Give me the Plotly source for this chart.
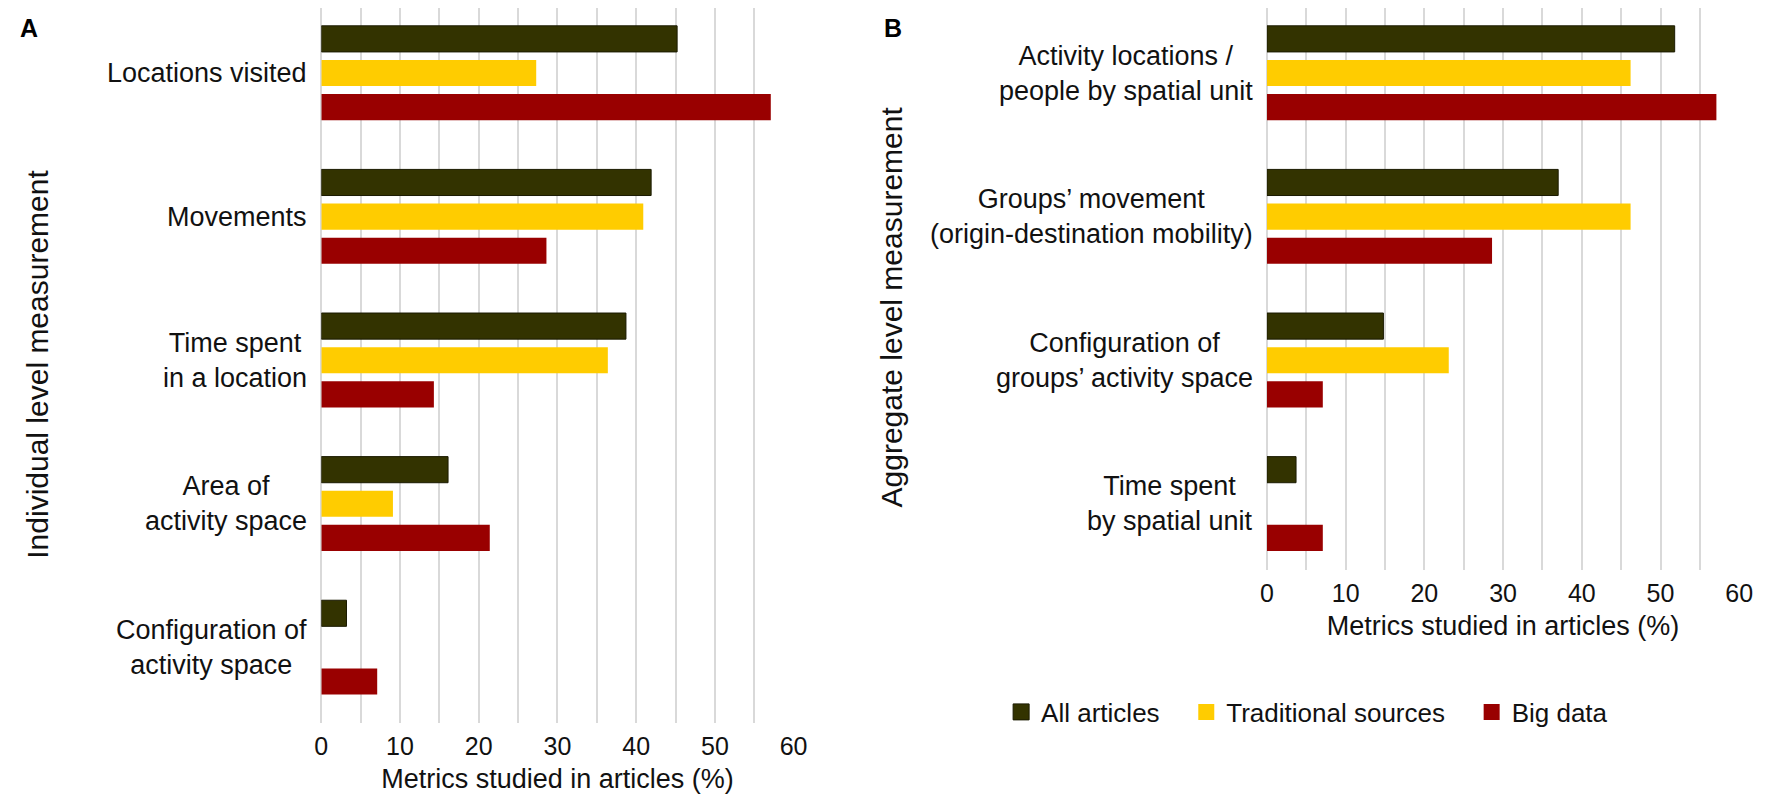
import plotly.graph_objects as go

# panel A - individual level
cats_a = ["Locations visited", "Movements", "Time spent<br>in a location",
          "Area of<br>activity space", "Configuration of<br>activity space"]
all_a = [45.2, 41.9, 38.7, 16.1, 3.2]
trad_a = [27.3, 40.9, 36.4, 9.1, 0]
big_a = [57.1, 28.6, 14.3, 21.4, 7.1]

# panel B - aggregate level
cats_b = ["Activity locations /<br>people by spatial unit",
          "Groups’ movement<br>(origin-destination mobility)",
          "Configuration of<br>groups’ activity space",
          "Time spent<br>by spatial unit"]
all_b = [51.8, 37.0, 14.8, 3.7]
trad_b = [46.2, 46.2, 23.1, 0]
big_b = [57.1, 28.6, 7.1, 7.1]

series_names = ["All articles", "Traditional sources", "Big data"]
colors = ["#333300", "#ffcc00", "#990000"]
outlines = ["#1a1a00", "#ffcc00", "#990000"]

FONT = "Liberation Sans, Arial, sans-serif"
INK = "#111"

# the page body has an 8px margin, so the figure is shrunk and everything shifted
OFF = 8
W, H = 1772 - OFF, 799 - OFF


def fx(px):
    return (px - OFF) / W


def fy(py):
    return 1 - (py - OFF) / H


# category rows: first group centre at y=73, 143.6px apart
ROW = 143.6
FIRST = 73


def cat_range(bottom_px):
    top_val = -(FIRST - OFF) / ROW
    return [top_val + (bottom_px - OFF) / ROW, top_val]


fig = go.Figure()

for i, vals in enumerate([all_a, trad_a, big_a]):
    fig.add_trace(go.Bar(y=cats_a, x=vals, orientation="h", name=series_names[i],
                         marker=dict(color=colors[i], line=dict(color=outlines[i], width=1 if i == 0 else 0)),
                         showlegend=False, xaxis="x", yaxis="y"))
for i, vals in enumerate([all_b, trad_b, big_b]):
    fig.add_trace(go.Bar(y=cats_b, x=vals, orientation="h", name=series_names[i],
                         marker=dict(color=colors[i], line=dict(color=outlines[i], width=1 if i == 0 else 0)),
                         showlegend=False, xaxis="x2", yaxis="y2"))

# legend entries with bigger squares (nbsp pads the spacing between items)
pad = "\u00a0\u00a0\u00a0"
for i in range(3):
    fig.add_trace(go.Scatter(x=[None], y=[None], mode="markers",
                             name=series_names[i] + (pad if i < 2 else ""),
                             marker=dict(symbol="square", size=18, color=colors[i],
                                         line=dict(color=outlines[i], width=1 if i == 0 else 0)),
                             xaxis="x2", yaxis="y2"))

xax = dict(range=[0, 60], dtick=10, showgrid=True, gridcolor="#d9d9d9", gridwidth=1.5,
           minor=dict(dtick=5, showgrid=True, gridcolor="#d9d9d9", gridwidth=1.5),
           zeroline=True, zerolinecolor="#d9d9d9", zerolinewidth=1.5,
           ticks="outside", ticklen=1, tickcolor="rgba(0,0,0,0)",
           tickfont=dict(size=25, color=INK),
           title=dict(text="Metrics studied in articles (%)", font=dict(size=27, color=INK), standoff=10))

fig.update_layout(
    width=W, height=H, autosize=False,
    margin=dict(l=0, r=0, t=0, b=0),
    paper_bgcolor="white", plot_bgcolor="white",
    font=dict(family=FONT, color=INK),
    barmode="group", bargap=0.287, bargroupgap=0.235,
    xaxis=dict(domain=[fx(318), fx(796)], anchor="y", **xax),
    xaxis2=dict(domain=[fx(1275), fx(1753)], anchor="y2", **xax),
    yaxis=dict(domain=[fy(723), 1], anchor="x", type="category",
               categoryorder="array", categoryarray=cats_a, range=cat_range(723),
               showgrid=False, showticklabels=False, zeroline=False),
    yaxis2=dict(domain=[fy(570), 1], anchor="x2", type="category",
                categoryorder="array", categoryarray=cats_b, range=cat_range(570),
                showgrid=False, showticklabels=False, zeroline=False),
    legend=dict(orientation="h", x=fx(1006), xanchor="left", y=fy(712), yanchor="middle",
                font=dict(size=26, color=INK), bgcolor="rgba(0,0,0,0)"),
)

# category labels, centred lines, right-aligned next to the axis
for c in cats_a:
    fig.add_annotation(x=0, xref="x domain", y=c, yref="y", text=c, showarrow=False,
                       xanchor="right", yanchor="middle", align="center", xshift=-12,
                       font=dict(size=27, color=INK))
for c in cats_b:
    fig.add_annotation(x=0, xref="x2 domain", y=c, yref="y2", text=c, showarrow=False,
                       xanchor="right", yanchor="middle", align="center", xshift=-12,
                       font=dict(size=27, color=INK))

# rotated axis titles
fig.add_annotation(x=fx(30), y=fy(364), xref="paper", yref="paper", text="Individual level measurement",
                   textangle=-90, showarrow=False, xanchor="center", yanchor="middle",
                   font=dict(size=30, color=INK))
fig.add_annotation(x=fx(895), y=fy(307), xref="paper", yref="paper", text="Aggregate level measurement",
                   textangle=-90, showarrow=False, xanchor="center", yanchor="middle",
                   font=dict(size=30, color=INK))

# panel letters
fig.add_annotation(x=fx(22), y=fy(28), xref="paper", yref="paper", text="<b>A</b>",
                   showarrow=False, xanchor="center", yanchor="middle", font=dict(size=25, color="#000"))
fig.add_annotation(x=fx(897), y=fy(28), xref="paper", yref="paper", text="<b>B</b>",
                   showarrow=False, xanchor="center", yanchor="middle", font=dict(size=25, color="#000"))

fig.write_html("out.html")
